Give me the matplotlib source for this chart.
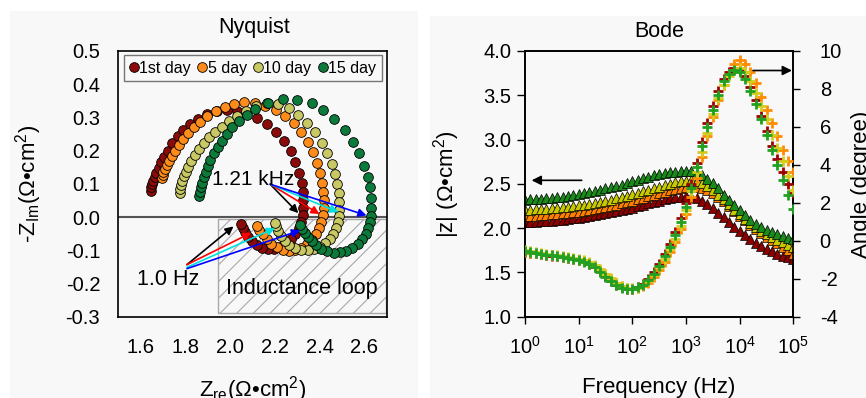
import numpy as np
import matplotlib.pyplot as plt
from matplotlib.patches import Rectangle
from matplotlib.ticker import FormatStrFormatter, NullLocator, FixedLocator

plt.rcParams['font.family'] = ['Liberation Sans', 'DejaVu Sans']
plt.rcParams['mathtext.fontset'] = 'custom'
plt.rcParams['mathtext.rm'] = 'Liberation Sans'
plt.rcParams['mathtext.it'] = 'Liberation Sans:italic'
plt.rcParams['mathtext.bf'] = 'Liberation Sans:bold'
plt.rcParams['hatch.linewidth'] = 0.8
plt.rcParams['axes.unicode_minus'] = False

days = ['1st day', '5 day', '10 day', '15 day']

# ---------------- Nyquist data (Zre, -Zim) ----------------
zre_d1 = [1.646, 1.648, 1.650, 1.656, 1.662, 1.670, 1.680, 1.692, 1.706, 1.722, 1.742, 1.765,
          1.790, 1.820, 1.855, 1.895, 1.940, 1.985, 2.030, 2.073, 2.118, 2.163, 2.205, 2.242,
          2.270, 2.292, 2.308, 2.320, 2.326, 2.328, 2.327, 2.324,
          2.318, 2.308, 2.292, 2.272, 2.248, 2.222, 2.195, 2.168, 2.142, 2.118, 2.097, 2.080,
          2.066, 2.056, 2.049]
zim_d1 = [0.080, 0.090, 0.099, 0.110, 0.120, 0.133, 0.148, 0.165, 0.182, 0.200, 0.222, 0.243,
          0.262, 0.280, 0.296, 0.309, 0.318, 0.322, 0.320, 0.313, 0.298, 0.280, 0.256, 0.228,
          0.198, 0.166, 0.134, 0.104, 0.076, 0.050, 0.026, 0.005,
          -0.014, -0.032, -0.050, -0.066, -0.080, -0.090, -0.095, -0.096, -0.092, -0.084, -0.073, -0.060,
          -0.046, -0.032, -0.020]

zre_d5 = [1.695, 1.698, 1.702, 1.708, 1.716, 1.726, 1.738, 1.752, 1.770, 1.790, 1.812, 1.838,
          1.866, 1.898, 1.935, 1.975, 2.018, 2.063, 2.110, 2.158, 2.203, 2.245, 2.285, 2.318,
          2.347, 2.370, 2.388, 2.401, 2.411, 2.417, 2.419, 2.418, 2.414,
          2.408, 2.398, 2.383, 2.365, 2.343, 2.318, 2.291, 2.263, 2.235, 2.208, 2.184, 2.163,
          2.145, 2.130, 2.118]
zim_d5 = [0.117, 0.126, 0.135, 0.146, 0.157, 0.170, 0.184, 0.200, 0.218, 0.236, 0.253, 0.270,
          0.287, 0.303, 0.318, 0.331, 0.340, 0.345, 0.343, 0.335, 0.322, 0.305, 0.283, 0.257,
          0.227, 0.195, 0.163, 0.132, 0.103, 0.076, 0.050, 0.026, 0.005,
          -0.014, -0.033, -0.052, -0.068, -0.082, -0.093, -0.100, -0.102, -0.099, -0.091, -0.080, -0.066,
          -0.052, -0.039, -0.028]

zre_d10 = [1.774, 1.778, 1.782, 1.787, 1.793, 1.802, 1.812, 1.826, 1.842, 1.860, 1.882, 1.906,
           1.932, 1.962, 1.995, 2.030, 2.070, 2.115, 2.165, 2.215, 2.262, 2.305, 2.345, 2.380,
           2.410, 2.435, 2.455, 2.469, 2.479, 2.485, 2.488, 2.488, 2.486,
           2.482, 2.474, 2.462, 2.446, 2.426, 2.402, 2.375, 2.347, 2.318, 2.290, 2.265, 2.245,
           2.228, 2.215, 2.206, 2.200]
zim_d10 = [0.072, 0.085, 0.097, 0.110, 0.123, 0.137, 0.152, 0.170, 0.187, 0.204, 0.222, 0.240,
           0.256, 0.272, 0.289, 0.304, 0.320, 0.335, 0.343, 0.340, 0.328, 0.308, 0.283, 0.255,
           0.224, 0.193, 0.161, 0.130, 0.100, 0.072, 0.046, 0.022, 0.002,
           -0.016, -0.033, -0.050, -0.066, -0.079, -0.090, -0.097, -0.100, -0.099, -0.094, -0.084, -0.071,
           -0.056, -0.041, -0.028, -0.017]

zre_d15 = [1.863, 1.864, 1.868, 1.874, 1.881, 1.890, 1.900, 1.912, 1.927, 1.944, 1.963, 1.985,
           2.010, 2.040, 2.074, 2.112, 2.171, 2.238, 2.298, 2.365, 2.414, 2.466, 2.515, 2.551,
           2.577, 2.599, 2.615, 2.624, 2.628, 2.629, 2.628,
           2.625, 2.618, 2.606, 2.590, 2.570, 2.546, 2.520, 2.492, 2.463, 2.435, 2.408, 2.385,
           2.364, 2.347, 2.334, 2.323, 2.314]
zim_d15 = [0.064, 0.077, 0.090, 0.104, 0.120, 0.137, 0.155, 0.173, 0.192, 0.211, 0.230, 0.250,
           0.270, 0.289, 0.307, 0.324, 0.344, 0.354, 0.352, 0.344, 0.322, 0.294, 0.262, 0.227,
           0.192, 0.155, 0.122, 0.090, 0.058, 0.028, 0.004,
           -0.014, -0.032, -0.050, -0.066, -0.080, -0.092, -0.101, -0.106, -0.107, -0.103, -0.095, -0.085,
           -0.073, -0.060, -0.047, -0.035, -0.025]

nyq_colors = ['#8b0a0a', '#ff8c1a', '#c8c864', '#0b7a3b']
arrow_colors = ['black', 'red', '#00e0e0', 'blue']

# arrow tips: high-frequency crossing (1.21 kHz) and low-frequency end (1.0 Hz)
khz_tip_x = [2.305, 2.400, 2.484, 2.610]
khz_tip_y = [0.012, 0.009, 0.015, 0.005]
hz_tip_x = [2.015, 2.095, 2.201, 2.313]
hz_tip_y = [-0.028, -0.047, -0.033, -0.040]
hz_tail_y = [-0.143, -0.143, -0.151, -0.155]

# ---------------- Bode data ----------------
freq = np.logspace(0, 5, 51)

zmod_d1 = [2.065, 2.069, 2.073, 2.077, 2.081, 2.086, 2.091, 2.097, 2.103, 2.110, 2.117, 2.125,
           2.134, 2.144, 2.155, 2.166, 2.178, 2.190, 2.203, 2.217, 2.232, 2.248, 2.264, 2.280,
           2.296, 2.311, 2.325, 2.337, 2.347, 2.355, 2.359, 2.356,
           2.340, 2.310, 2.270, 2.225, 2.175, 2.122, 2.068, 2.015, 1.965, 1.918, 1.875, 1.835,
           1.798, 1.765, 1.737, 1.712, 1.690, 1.672, 1.655]
zmod_d5 = [2.135, 2.139, 2.143, 2.147, 2.151, 2.156, 2.161, 2.167, 2.173, 2.180, 2.188, 2.196,
           2.205, 2.215, 2.226, 2.238, 2.251, 2.265, 2.280, 2.296, 2.312, 2.329, 2.346, 2.363,
           2.380, 2.397, 2.413, 2.428, 2.442, 2.455, 2.465, 2.470,
           2.468, 2.455, 2.430, 2.395, 2.352, 2.303, 2.250, 2.195, 2.140, 2.087, 2.037, 1.990,
           1.948, 1.905, 1.866, 1.828, 1.790, 1.750, 1.712]
zmod_d10 = [2.205, 2.209, 2.213, 2.217, 2.221, 2.226, 2.231, 2.237, 2.243, 2.250, 2.258, 2.266,
            2.275, 2.285, 2.296, 2.308, 2.321, 2.335, 2.350, 2.366, 2.382, 2.399, 2.416, 2.433,
            2.450, 2.470, 2.488, 2.504, 2.518, 2.530, 2.538, 2.540,
            2.532, 2.510, 2.475, 2.430, 2.380, 2.325, 2.268, 2.210, 2.155, 2.102, 2.053, 2.008,
            1.968, 1.932, 1.900, 1.870, 1.841, 1.812, 1.785]
zmod_d15 = [2.320, 2.324, 2.328, 2.333, 2.338, 2.344, 2.350, 2.357, 2.365, 2.374, 2.384, 2.395,
            2.407, 2.420, 2.434, 2.448, 2.462, 2.476, 2.490, 2.510, 2.530, 2.548, 2.565, 2.580,
            2.595, 2.608, 2.620, 2.630, 2.638, 2.643, 2.645, 2.640,
            2.625, 2.595, 2.555, 2.505, 2.450, 2.380, 2.320, 2.260, 2.200, 2.145, 2.095, 2.050,
            2.012, 1.980, 1.953, 1.930, 1.910, 1.893, 1.878]

angle_d1 = [-0.60, -0.62, -0.66, -0.70, -0.74, -0.78, -0.82, -0.86, -0.90, -0.95, -1.00, -1.08,
            -1.20, -1.38, -1.60, -1.85, -2.10, -2.30, -2.45, -2.52, -2.52, -2.45, -2.28, -2.00,
            -1.65, -1.20, -0.70, -0.15, 0.45, 1.20, 2.00, 3.00, 4.10, 5.20, 6.20, 7.10,
            7.90, 8.50, 8.90, 9.10, 9.00, 8.70, 8.10, 7.40, 6.60, 5.80, 5.00, 4.30, 3.60,
            3.00, 2.50]
angle_d5 = [-0.60, -0.62, -0.65, -0.69, -0.73, -0.77, -0.81, -0.85, -0.90, -0.95, -1.00, -1.06,
            -1.16, -1.32, -1.52, -1.76, -2.00, -2.22, -2.38, -2.48, -2.52, -2.50, -2.40, -2.20,
            -1.92, -1.55, -1.10, -0.60, -0.05, 0.60, 1.40, 2.30, 3.30, 4.40, 5.50, 6.50,
            7.40, 8.20, 8.80, 9.30, 9.50, 9.30, 8.90, 8.30, 7.60, 6.90, 6.20, 5.50, 4.80,
            4.20, 3.60]
angle_d10 = [-0.50, -0.55, -0.60, -0.64, -0.68, -0.72, -0.76, -0.80, -0.85, -0.90, -0.95, -1.02,
             -1.12, -1.28, -1.48, -1.72, -1.98, -2.20, -2.37, -2.47, -2.50, -2.47, -2.35, -2.12,
             -1.80, -1.40, -0.95, -0.45, 0.10, 0.80, 1.60, 2.60, 3.60, 4.70, 5.70, 6.70,
             7.50, 8.20, 8.70, 9.00, 9.10, 8.90, 8.40, 7.80, 7.10, 6.40, 5.60, 4.90, 4.20,
             3.40, 2.70]
angle_d15 = [-0.55, -0.60, -0.64, -0.68, -0.72, -0.76, -0.80, -0.84, -0.90, -0.96, -1.02, -1.10,
             -1.22, -1.40, -1.62, -1.88, -2.12, -2.32, -2.46, -2.52, -2.52, -2.45, -2.30, -2.05,
             -1.72, -1.30, -0.82, -0.30, 0.30, 1.00, 1.80, 2.80, 3.90, 5.00, 6.00, 6.90,
             7.70, 8.40, 8.80, 9.00, 8.90, 8.50, 7.90, 7.20, 6.40, 5.60, 4.80, 4.00, 3.20,
             2.40, 1.70]

tri_colors = ['#8b0000', '#ff8000', '#c8c800', '#1a8a1a']
plus_colors = ['#a00000', '#ff8c00', '#d4cc20', '#22a022']

nyq_re = [zre_d1, zre_d5, zre_d10, zre_d15]
nyq_im = [zim_d1, zim_d5, zim_d10, zim_d15]
zmods = [zmod_d1, zmod_d5, zmod_d10, zmod_d15]
angles = [angle_d1, angle_d5, angle_d10, angle_d15]

fig = plt.figure(figsize=(8.66, 3.98), dpi=100)
fig.patches.append(Rectangle((0.0115, 0), 0.4712, 0.9724, transform=fig.transFigure,
                             facecolor='#f8f8f8', edgecolor='none', zorder=-10))
fig.patches.append(Rectangle((0.4965, 0), 0.5035, 0.9600, transform=fig.transFigure,
                             facecolor='#f8f8f8', edgecolor='none', zorder=-10))

# ================= Nyquist =================
ax1 = fig.add_axes([0.1366, 0.204, 0.3099, 0.668])
ax1.set_facecolor('none')
for xs, ys, c, lab in zip(nyq_re, nyq_im, nyq_colors, days):
    ax1.plot(xs, ys, 'o', ms=7, mfc=c, mec='black', mew=0.6, label=lab, zorder=3)
ax1.axhline(0, color='#555555', lw=1.5, zorder=2)
ax1.add_patch(Rectangle((1.948, -0.288), 0.749, 0.282, fill=False, hatch='//',
                        edgecolor='#a8a8a8', lw=1.0, zorder=1))
ax1.text(2.32, -0.216, 'Inductance loop', ha='center', va='center', fontsize=15.5)

for tx, ty, c in zip(khz_tip_x, khz_tip_y, arrow_colors):
    ax1.annotate('', xy=(tx, ty), xytext=(2.179, 0.099),
                 arrowprops=dict(arrowstyle='-|>', color=c, lw=1.2, mutation_scale=12,
                                 shrinkA=0, shrinkB=0), zorder=4)
for tx, ty, sy, c in zip(hz_tip_x, hz_tip_y, hz_tail_y, arrow_colors):
    ax1.annotate('', xy=(tx, ty), xytext=(1.807, sy),
                 arrowprops=dict(arrowstyle='-|>', color=c, lw=1.2, mutation_scale=12,
                                 shrinkA=0, shrinkB=0), zorder=4)
ax1.text(2.104, 0.112, '1.21 kHz', ha='center', va='center', fontsize=15, zorder=5)
ax1.text(1.723, -0.189, '1.0 Hz', ha='center', va='center', fontsize=15.5, zorder=5)

ax1.set_xlim(1.5, 2.7)
ax1.set_ylim(-0.3, 0.5)
ax1.set_xticks([1.6, 1.8, 2.0, 2.2, 2.4, 2.6])
ax1.set_yticks([-0.3, -0.2, -0.1, 0.0, 0.1, 0.2, 0.3, 0.4, 0.5])
ax1.xaxis.set_major_formatter(FormatStrFormatter('%.1f'))
ax1.yaxis.set_major_formatter(FormatStrFormatter('%.1f'))
ax1.tick_params(axis='x', length=0, pad=15, labelsize=14.5)
ax1.tick_params(axis='y', length=0, pad=13, labelsize=14.5)
for sp in ax1.spines.values():
    sp.set_linewidth(1.2)
ax1.set_xlabel(r'Z$_{\mathrm{re}}$(Ω•cm$^{2}$)', fontsize=16)
ax1.set_ylabel(r'-Z$_{\mathrm{Im}}$(Ω•cm$^{2}$)', fontsize=16)
ax1.xaxis.set_label_coords(0.5, -0.215)
ax1.yaxis.set_label_coords(-0.277, 0.5)

leg = ax1.legend(loc='lower left', bbox_to_anchor=(0.021, 0.886, 0.961, 0.109), mode='expand',
                 ncol=4, handlelength=0.5, handletextpad=0.1, columnspacing=0.3,
                 borderpad=0.35, borderaxespad=0, fontsize=11.5, fancybox=False,
                 edgecolor='#555555', facecolor='none')
leg.get_frame().set_linewidth(1.0)

fig.text(0.293, 0.9163, 'Nyquist', ha='center', va='baseline', fontsize=15.5)

# ================= Bode =================
ax2 = fig.add_axes([0.6062, 0.204, 0.3099, 0.668])
ax2.set_facecolor('none')
ax2.set_xscale('log')
for zm, c in zip(zmods, tri_colors):
    ax2.plot(freq, zm, '^', ms=6.5, mfc=c, mec='black', mew=0.5, zorder=3)
ax2.set_xlim(1, 1e5)
ax2.set_ylim(1.0, 4.0)
ax2.xaxis.set_major_locator(FixedLocator([1, 10, 100, 1e3, 1e4, 1e5]))
ax2.xaxis.set_minor_locator(NullLocator())
ax2.set_yticks([1.0, 1.5, 2.0, 2.5, 3.0, 3.5, 4.0])
ax2.yaxis.set_major_formatter(FormatStrFormatter('%.1f'))
ax2.tick_params(axis='y', direction='out', length=6, width=1, pad=4, labelsize=14.5)
ax2.tick_params(axis='x', direction='out', length=5, width=1, pad=9, labelsize=14.5)
ax2.annotate('', xy=(1.33, 2.54), xytext=(11.4, 2.54),
             arrowprops=dict(arrowstyle='-|>', color='black', lw=1.2, mutation_scale=14,
                             shrinkA=0, shrinkB=0))

ax3 = ax2.twinx()
ax3.set_facecolor('none')
for an, c in zip(angles, plus_colors):
    ax3.plot(freq, an, '+', ms=6.5, mec=c, mew=2.0, zorder=3)
ax3.set_ylim(-4, 10)
ax3.set_yticks([-4, -2, 0, 2, 4, 6, 8, 10])
ax3.tick_params(axis='y', direction='out', length=5, width=1, pad=14, labelsize=14.5)
ax3.annotate('', xy=(10 ** 4.975, 8.97), xytext=(10 ** 4.248, 8.97),
             arrowprops=dict(arrowstyle='-|>', color='black', lw=1.2, mutation_scale=14,
                             shrinkA=0, shrinkB=0))

for a in (ax2, ax3):
    for sp in a.spines.values():
        sp.set_linewidth(1.2)

ax2.set_xlabel('Frequency (Hz)', fontsize=16)
ax2.set_ylabel(r'|z| (Ω•cm$^{2}$)', fontsize=16)
ax3.set_ylabel('Angle (degree)', fontsize=16)
ax2.xaxis.set_label_coords(0.5, -0.225)
ax2.yaxis.set_label_coords(-0.235, 0.5)
ax3.yaxis.set_label_coords(1.215, 0.5)

fig.text(0.7616, 0.906, 'Bode', ha='center', va='baseline', fontsize=15.5)

fig.savefig('out.png', dpi=100)
